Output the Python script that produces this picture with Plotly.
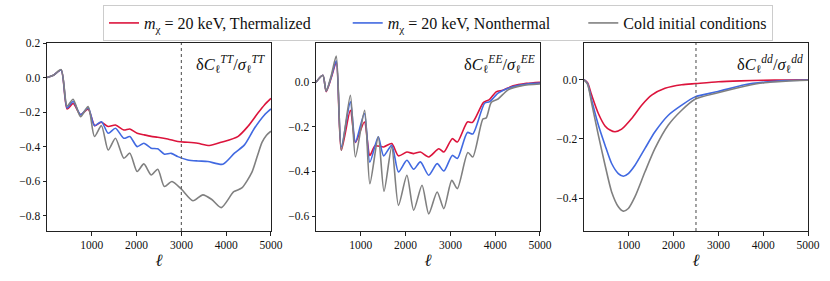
import plotly.graph_objects as go

# ---------------- data ----------------
tt_red_ell = [0, 152, 315, 449, 583, 748, 919, 1067, 1210, 1366, 1528, 1715, 1849, 2013, 2162, 2325, 2473,
              2696, 2920, 3143, 3366, 3627, 3887, 4260, 4483, 4706, 4854, 5000]
tt_red = [0, 0.015, 0.044, -0.182, -0.150, -0.214, -0.183, -0.278, -0.258, -0.283, -0.274, -0.303, -0.297,
          -0.322, -0.331, -0.340, -0.345, -0.355, -0.370, -0.374, -0.380, -0.393, -0.374, -0.341, -0.283,
          -0.206, -0.158, -0.120]

tt_blue_ell = [0, 152, 315, 449, 583, 748, 919, 1060, 1216, 1366, 1528, 1715, 1849, 2013, 2162, 2325, 2473,
               2622, 2771, 2920, 3143, 3366, 3590, 3925, 4185, 4408, 4631, 4854, 5000]
tt_blue = [0, 0.015, 0.044, -0.175, -0.138, -0.215, -0.175, -0.278, -0.255, -0.322, -0.293, -0.351, -0.341,
           -0.399, -0.380, -0.408, -0.412, -0.443, -0.438, -0.457, -0.476, -0.482, -0.485, -0.501, -0.437,
           -0.389, -0.293, -0.216, -0.181]

tt_gray_ell = [0, 152, 315, 449, 583, 748, 919, 1060, 1216, 1366, 1528, 1715, 1849, 2013, 2162, 2325, 2473,
               2620, 2790, 3000, 3258, 3480, 3680, 3890, 4170, 4350, 4570, 4700, 4800, 4900, 5000]
tt_gray = [0, 0.015, 0.046, -0.165, -0.125, -0.226, -0.168, -0.341, -0.278, -0.419, -0.351, -0.466, -0.437,
           -0.543, -0.499, -0.563, -0.530, -0.630, -0.601, -0.645, -0.712, -0.678, -0.705, -0.752, -0.660,
           -0.638, -0.550, -0.450, -0.375, -0.333, -0.310]

ee_red_ell = [0, 152, 227, 340, 452, 564, 767, 880, 1080, 1202, 1320, 1510, 1690, 1841, 2029, 2180, 2330,
              2517, 2742, 2854, 3042, 3155, 3380, 3493, 3740, 3870, 4022, 4172, 4400, 4700, 5000]
ee_red = [0, 0.031, -0.042, 0.020, 0.090, -0.305, -0.126, -0.270, -0.178, -0.328, -0.285, -0.290, -0.275,
          -0.330, -0.313, -0.320, -0.313, -0.335, -0.298, -0.313, -0.253, -0.268, -0.178, -0.180, -0.090,
          -0.078, -0.043, -0.036, -0.016, -0.005, 0.0]

ee_blue_ell = [0, 152, 227, 340, 452, 564, 767, 880, 1080, 1202, 1390, 1510, 1690, 1841, 2029, 2180, 2330,
               2517, 2704, 2854, 3042, 3155, 3380, 3500, 3764, 3877, 4064, 4287, 4500, 4750, 5000]
ee_blue = [0, 0.031, -0.039, 0.024, 0.096, -0.290, -0.088, -0.268, -0.140, -0.358, -0.245, -0.330, -0.283,
           -0.402, -0.350, -0.390, -0.357, -0.417, -0.365, -0.398, -0.328, -0.342, -0.225, -0.232, -0.094,
           -0.087, -0.049, -0.027, -0.015, -0.007, -0.004]

ee_gray_ell = [0, 152, 227, 340, 452, 564, 767, 880, 1085, 1202, 1390, 1518, 1690, 1841, 2029, 2180, 2367,
               2517, 2704, 2854, 3030, 3155, 3390, 3500, 3726, 3800, 3914, 4064, 4287, 4600, 5000]
ee_gray = [0, 0.031, -0.039, 0.030, 0.117, -0.305, -0.058, -0.335, -0.126, -0.455, -0.245, -0.489, -0.290,
           -0.552, -0.417, -0.574, -0.462, -0.590, -0.492, -0.567, -0.440, -0.477, -0.315, -0.335, -0.165,
           -0.160, -0.090, -0.075, -0.034, -0.015, -0.008]

dd_red_ell = [0, 80, 172, 321, 470, 581, 693, 841, 1064, 1288, 1511, 1809, 2181, 2500, 3000, 3500, 4000,
              4500, 5000]
dd_red = [0, -0.010, -0.052, -0.114, -0.156, -0.170, -0.176, -0.167, -0.131, -0.086, -0.052, -0.029, -0.017,
          -0.013, -0.007, -0.004, -0.002, -0.001, 0.0]

dd_ell = [0, 80, 172, 321, 470, 618, 767, 879, 990, 1139, 1362, 1585, 1883, 2181, 2478, 2991, 3586, 4033,
          4500, 5000]
dd_blue = [0, -0.013, -0.069, -0.153, -0.221, -0.283, -0.317, -0.326, -0.317, -0.289, -0.232, -0.176, -0.120,
           -0.086, -0.058, -0.040, -0.017, -0.008, -0.003, -0.001]
dd_gray = [0, -0.015, -0.080, -0.187, -0.288, -0.379, -0.429, -0.444, -0.435, -0.395, -0.311, -0.232, -0.153,
           -0.103, -0.066, -0.044, -0.022, -0.010, -0.005, -0.002]

series_names = ["<i>m</i><sub>χ</sub> = 20 keV, Thermalized",
                "<i>m</i><sub>χ</sub> = 20 keV, Nonthermal",
                "Cold initial conditions"]
colors = ["#DC143C", "#4169E1", "#808080"]

x_ticks = [1000, 2000, 3000, 4000, 5000]
y_ticks_tt = [0.2, 0.0, -0.2, -0.4, -0.6, -0.8]
y_ticks_ee = [0.0, -0.2, -0.4, -0.6]
y_ticks_dd = [0.0, -0.2, -0.4]
panel_labels = ["δ<i>C</i><sub>ℓ</sub><sup><i>TT</i></sup>/<i>σ</i><sub>ℓ</sub><sup><i>TT</i></sup>",
                "δ<i>C</i><sub>ℓ</sub><sup><i>EE</i></sup>/<i>σ</i><sub>ℓ</sub><sup><i>EE</i></sup>",
                "δ<i>C</i><sub>ℓ</sub><sup><i>dd</i></sup>/<i>σ</i><sub>ℓ</sub><sup><i>dd</i></sup>"]
vlines = {1: 3000, 3: 2500}

# ---------------- figure ----------------
FONT = "Liberation Serif, serif"
PAD = "\u00a0"
legend_pad = [PAD * 8, PAD * 7, ""]
fig = go.Figure()

panels = [
    (1, [(tt_red_ell, tt_red), (tt_blue_ell, tt_blue), (tt_gray_ell, tt_gray)]),
    (2, [(ee_red_ell, ee_red), (ee_blue_ell, ee_blue), (ee_gray_ell, ee_gray)]),
    (3, [(dd_red_ell, dd_red), (dd_ell, dd_blue), (dd_ell, dd_gray)]),
]
for idx, data in panels:
    sfx = "" if idx == 1 else str(idx)
    for k, (xs, ys) in enumerate(data):
        fig.add_trace(go.Scatter(
            x=xs, y=ys, mode="lines", name=series_names[k] + legend_pad[k],
            line=dict(color=colors[k], width=1.6, shape="spline", smoothing=0.7),
            xaxis="x" + sfx, yaxis="y" + sfx, showlegend=(idx == 1)))

domains = [[0.0, 0.2943], [0.3535, 0.6478], [0.7056, 1.0]]
yranges = [[-0.887, 0.2], [-0.667, 0.176], [-0.511, 0.124]]
yticks = [y_ticks_tt, y_ticks_ee, y_ticks_dd]

axis_common = dict(showline=True, linecolor="#222", linewidth=1, mirror=True,
                   ticks="outside", ticklen=3.5, tickwidth=0.8, tickcolor="#222",
                   showgrid=False, zeroline=False, automargin=False,
                   tickfont=dict(family=FONT, size=11.5, color="#111"))

layout = dict(
    width=830, height=281,
    margin=dict(l=47, r=22, t=43, b=50, autoexpand=False),
    plot_bgcolor="white", paper_bgcolor="white",
    font=dict(family=FONT, size=12, color="#111"),
    legend=dict(orientation="h", x=0.0736, xanchor="left", y=1.202, yanchor="top",
                bordercolor="#cccccc", borderwidth=1, bgcolor="white",
                font=dict(family=FONT, size=16), tracegroupgap=0),
)
shapes = []
annotations = []
for i in range(3):
    sfx = "" if i == 0 else str(i + 1)
    layout["xaxis" + sfx] = dict(axis_common, domain=domains[i], range=[0, 5000],
                                 tickvals=x_ticks, anchor="y" + sfx,
                                 title=dict(text="<i>ℓ</i>", standoff=3,
                                            font=dict(family=FONT, size=17)))
    layout["yaxis" + sfx] = dict(axis_common, range=yranges[i], tickvals=yticks[i],
                                 tickformat=".1f", anchor="x" + sfx)
    annotations.append(dict(text=panel_labels[i], xref=("x" + sfx + " domain"),
                            yref=("y" + sfx + " domain"), x=0.985, y=0.955,
                            xanchor="right", yanchor="top", showarrow=False,
                            font=dict(family=FONT, size=16.5, color="#111")))
    if (i + 1) in vlines:
        shapes.append(dict(type="line", xref="x" + sfx, yref="y" + sfx + " domain",
                           x0=vlines[i + 1], x1=vlines[i + 1], y0=0, y1=1,
                           line=dict(color="#666", width=1.2, dash="dot")))
layout["shapes"] = shapes
layout["annotations"] = annotations
fig.update_layout(**layout)

fig.write_html("out.html", config={"displayModeBar": False},
               post_script="document.body.style.margin='0';")
